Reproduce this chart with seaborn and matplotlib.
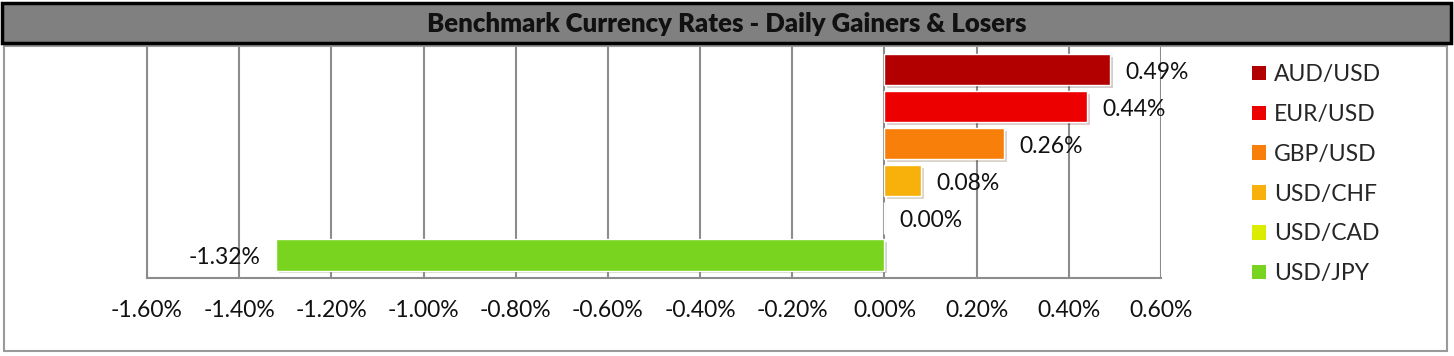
import numpy as np
import pandas as pd
import seaborn as sns
import matplotlib.pyplot as plt
from matplotlib.patches import Rectangle, Patch
import matplotlib.patheffects as pe

# Chart data
pairs = ['AUD/USD', 'EUR/USD', 'GBP/USD', 'USD/CHF', 'USD/CAD', 'USD/JPY']
changes = [0.49, 0.44, 0.26, 0.08, 0.00, -1.32]
colors = ['#B20000', '#EC0000', '#F8800A', '#F8B00A', '#DCEC00', '#78D41E']
xticks = [-1.6, -1.4, -1.2, -1.0, -0.8, -0.6, -0.4, -0.2, 0.0, 0.2, 0.4, 0.6]

df = pd.DataFrame({'pair': pairs, 'change': changes})

sns.set_style('white')
plt.rcParams['font.family'] = ['Lato', 'DejaVu Sans']

W, H = 1454, 356
fs = 16.5
fig = plt.figure(figsize=(W / 100, H / 100), dpi=100)

# outer chart border
fig.patches.append(Rectangle((4 / W, 1 - 351 / H), 1443 / W, 305 / H,
                             transform=fig.transFigure, fill=False,
                             edgecolor='#9a9a9a', linewidth=1.5, zorder=0))
# title bar
fig.patches.append(Rectangle((2 / W, 1 - 43 / H), 1449 / W, 40 / H,
                             transform=fig.transFigure, facecolor='#808080',
                             edgecolor='black', linewidth=2.5, zorder=1))
fig.text(727 / W, 1 - 24 / H, 'Benchmark Currency Rates - Daily Gainers & Losers',
         ha='center', va='center', fontsize=18.5, fontweight='heavy', color='#111111')

ax = fig.add_axes([147 / W, 1 - 278 / H, (1161 - 147) / W, (278 - 47) / H])
sns.barplot(data=df, x='change', y='pair', hue='pair', palette=colors,
            orient='h', width=0.84, legend=False, saturation=1, ax=ax, zorder=3)

for bar in ax.patches:
    bar.set_path_effects([pe.SimplePatchShadow(offset=(2, -2), alpha=0.2), pe.Normal()])

ax.set_xlim(-1.6, 0.6)
ax.set_ylim(5.62, -0.61)
ax.set_xticks(xticks)
ax.set_xticklabels([f'{t:.2f}%' for t in xticks])
ax.set_yticks([])
ax.set_xlabel('')
ax.set_ylabel('')
ax.tick_params(axis='x', length=0, pad=16, labelsize=fs, labelcolor='#111111')
ax.grid(axis='x', color='#8c8c8c', linewidth=1.5)
ax.set_axisbelow(True)
for side in ['top', 'right']:
    ax.spines[side].set_visible(False)
for side in ['left', 'bottom']:
    ax.spines[side].set_color('#8c8c8c')
    ax.spines[side].set_linewidth(1.5)

# value labels
for i, v in enumerate(changes):
    off = 11 if v >= 0 else -11
    ax.annotate(f'{v:.2f}%', xy=(v, i), xytext=(off, -2), textcoords='offset points',
                ha='left' if v >= 0 else 'right', va='center', fontsize=fs,
                color='#111111')

handles = [Patch(facecolor=c, edgecolor='none') for c in colors]
fig.legend(handles, pairs, loc='upper left', bbox_to_anchor=(1243 / W, 1 - 55 / H),
           frameon=False, fontsize=fs, handlelength=0.6, handleheight=0.6,
           handletextpad=0.35, labelspacing=0.82, borderaxespad=0)

fig.savefig('out.png', dpi=100)
